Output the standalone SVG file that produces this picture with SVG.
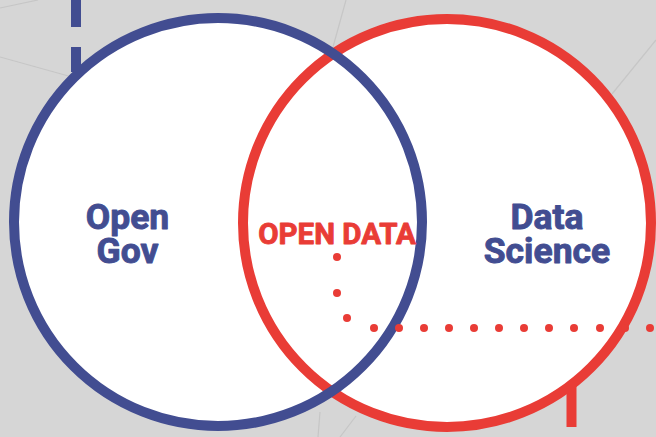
<svg xmlns="http://www.w3.org/2000/svg" width="656" height="437" viewBox="0 0 656 437">
<style>
.bg-line{stroke:#c6c6c6;stroke-width:1.2;fill:none}
.fillw{fill:#ffffff;stroke:none}
.blue{stroke:#424d91;stroke-width:10;fill:none}
.red{stroke:#e93c36;stroke-width:10;fill:none}
.lbl{font-family:Roboto,"Liberation Sans",sans-serif;font-weight:bold;text-anchor:middle;stroke-width:0.9;stroke-linejoin:round}
.tb{fill:#424d91;stroke:#424d91;font-size:35.5px}
.tr{fill:#e93c36;stroke:#e93c36;font-size:29.5px}
.dot{fill:#e93c36}
</style>
<rect width="656" height="437" fill="#d6d6d6"/>
<g id="background-lines">
<line class="bg-line" x1="0" y1="57" x2="72" y2="77"/>
<line class="bg-line" x1="0" y1="8" x2="38" y2="0"/>
<line class="bg-line" x1="346" y1="0" x2="333" y2="47"/>
<line class="bg-line" x1="656" y1="40" x2="612" y2="94"/>
<line class="bg-line" x1="320" y1="412" x2="318" y2="437"/>
<line class="bg-line" x1="356" y1="416" x2="340" y2="437"/>
</g>
<g id="circle-fills">
<circle class="fillw" cx="218" cy="222" r="204"/>
<circle class="fillw" cx="447" cy="223" r="204"/>
</g>
<g id="data-science">
<circle class="red" cx="447" cy="223" r="204"/>
<text class="lbl tb" x="547" y="229">Data<tspan x="547" dy="34">Science</tspan></text>
</g>
<g id="open-gov">
<circle class="blue" cx="218" cy="222" r="204"/>
<text class="lbl tb" x="127.5" y="229">Open<tspan x="127.5" dy="34">Gov</tspan></text>
</g>
<g id="open-data">
<text class="lbl tr" x="337" y="244">OPEN DATA</text>
</g>
<g id="connectors">
<line class="blue" x1="76" y1="0" x2="76" y2="27"/>
<line class="blue" x1="76" y1="47" x2="76" y2="72"/>
<line class="red" x1="571.5" y1="386" x2="571.5" y2="427"/>
<g id="dots">
<circle class="dot" cx="337" cy="257" r="4"/>
<circle class="dot" cx="337" cy="293" r="4"/>
<circle class="dot" cx="347" cy="318" r="4"/>
<circle class="dot" cx="374" cy="328" r="4"/>
<circle class="dot" cx="399" cy="328" r="4"/>
<circle class="dot" cx="424" cy="328" r="4"/>
<circle class="dot" cx="449" cy="328" r="4"/>
<circle class="dot" cx="474" cy="328" r="4"/>
<circle class="dot" cx="499" cy="328" r="4"/>
<circle class="dot" cx="524" cy="328" r="4"/>
<circle class="dot" cx="549" cy="328" r="4"/>
<circle class="dot" cx="574" cy="328" r="4"/>
<circle class="dot" cx="600" cy="328" r="4"/>
<circle class="dot" cx="625" cy="328" r="4"/>
<circle class="dot" cx="650" cy="328" r="4"/>
</g>
</g>
</svg>
